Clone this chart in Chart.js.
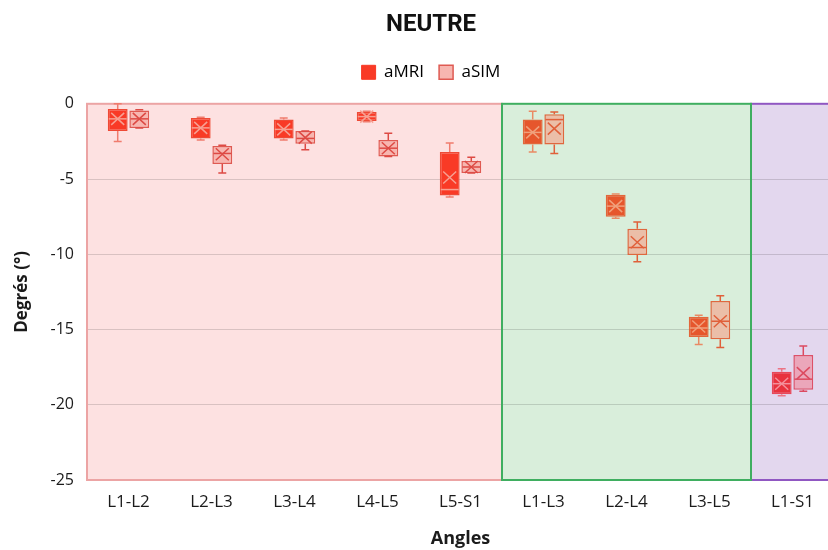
<!DOCTYPE html>
<html>
<head>
<meta charset="utf-8">
<script src="https://cdn.jsdelivr.net/npm/chart.js@4.4.1/dist/chart.umd.min.js"></script>
<style>
  html, body { margin: 0; padding: 0; overflow: hidden; background: #fff; }
</style>
</head>
<body>
<canvas id="neutre" width="862" height="550"></canvas>
<script>
// angles (x categories) and how many belong to each shaded group
const categories = ['L1-L2', 'L2-L3', 'L3-L4', 'L4-L5', 'L5-S1', 'L1-L3', 'L2-L4', 'L3-L5', 'L1-S1'];
const groupSizes = [5, 3, 1];

// aMRI box stats (degrees)
const mriMin  = [-2.5, -2.4, -2.4, -1.2, -6.2, -3.2, -7.6, -16.0, -19.4];
const mriQ1   = [-1.8, -2.3, -2.3, -1.15, -6.1, -2.7, -7.5, -15.5, -19.3];
const mriMed  = [-1.0, -1.6, -1.7, -0.85, -5.7, -1.9, -6.8, -14.9, -18.6];
const mriQ3   = [-0.35, -0.95, -1.05, -0.55, -3.2, -1.05, -6.05, -14.15, -17.8];
const mriMax  = [0.0, -0.9, -0.95, -0.5, -2.6, -0.5, -6.0, -14.05, -17.6];
const mriMean = [-1.0, -1.6, -1.7, -0.85, -4.9, -1.9, -6.8, -14.8, -18.6];

// aSIM box stats (degrees)
const simMin  = [-1.6, -4.6, -3.05, -3.5, -4.6, -3.3, -10.5, -16.2, -19.1];
const simQ1   = [-1.6, -4.0, -2.65, -3.5, -4.6, -2.7, -10.05, -15.65, -19.0];
const simMed  = [-1.0, -3.3, -2.3, -2.95, -4.2, -1.05, -9.55, -14.45, -18.3];
const simQ3   = [-0.45, -2.8, -1.8, -2.4, -3.8, -0.7, -8.3, -13.1, -16.7];
const simMax  = [-0.4, -2.75, -1.8, -1.95, -3.55, -0.55, -7.85, -12.75, -16.1];
const simMean = [-1.0, -3.35, -2.25, -2.95, -4.2, -1.65, -9.2, -14.45, -17.9];

const yTicks = [0, -5, -10, -15, -20, -25];

// colours per group (pink, green, purple)
const groupBg     = ['#fde1e1', '#d9eedb', '#e3d7ee'];
const groupBorder = ['#eca4a4', '#3fae60', '#9057c2'];
const mriFill  = ['#f93a26', '#e6562c', '#e8323e'];
const mriEdge  = ['#ee4a36', '#e2663a', '#e8485a'];
const mriLine  = ['#f7a092', '#f0a07c', '#f4909c'];
const mriWhisk = ['#f07c6e', '#e98a64', '#ec7484'];
const simFill  = ['#f7b6b0', '#ebbea8', '#eba6ba'];
const simEdge  = ['#df5a52', '#e0673e', '#dd5168'];
const simLine  = ['#dd4a44', '#e0603a', '#dc4a60'];

const groupOf = [];
groupSizes.forEach((n, g) => { for (let k = 0; k < n; k++) groupOf.push(g); });

Chart.defaults.font.family = "'Open Sans', sans-serif";
Chart.defaults.color = '#1b1b1b';

// push the plot down a little below the legend
const legendGap = {
  id: 'legendGap',
  beforeLayout(chart) {
    const lg = chart.legend;
    if (lg && !lg._gap) {
      const fit = lg.fit;
      lg.fit = function () { fit.call(this); this.height += 13; };
      lg._gap = true;
    }
  }
};

function groupRects(x) {
  const step = x.getPixelForValue(1) - x.getPixelForValue(0);
  const rects = [];
  let start = 0;
  groupSizes.forEach((n, g) => {
    rects.push({
      l: x.getPixelForValue(start) - step / 2,
      r: x.getPixelForValue(start + n - 1) + step / 2,
      g
    });
    start += n;
  });
  return rects;
}

const boxPlugin = {
  id: 'boxes',
  beforeDraw(chart) {
    const { ctx, chartArea: a, scales: { x } } = chart;
    ctx.save();
    groupRects(x).forEach(({ l, r, g }) => {
      ctx.fillStyle = groupBg[g];
      ctx.fillRect(l, a.top, Math.min(r, a.right) - l, a.bottom - a.top);
    });
    ctx.restore();
  },
  beforeDatasetsDraw(chart) {
    const { ctx, chartArea: a, scales: { x } } = chart;
    const rects = groupRects(x);
    ctx.save();
    ctx.lineWidth = 2;
    [0, 2, 1].forEach(i => {
      const { l, r, g } = rects[i];
      ctx.strokeStyle = groupBorder[g];
      ctx.strokeRect(l, a.top, r - l, a.bottom - a.top);
    });
    ctx.restore();
  },
  afterDatasetsDraw(chart) {
    const { ctx, scales: { y } } = chart;
    ctx.save();
    chart.data.datasets.forEach((ds, di) => {
      const meta = chart.getDatasetMeta(di);
      const st = ds.stats;
      meta.data.forEach((bar, i) => {
        const g = groupOf[i];
        const cx = bar.x, w = bar.width;
        const yMin = y.getPixelForValue(st.min[i]);
        const yMax = y.getPixelForValue(st.max[i]);
        const yQ1 = y.getPixelForValue(st.q1[i]);
        const yQ3 = y.getPixelForValue(st.q3[i]);
        const yMed = y.getPixelForValue(st.med[i]);
        const yMean = y.getPixelForValue(st.mean[i]);
        const cap = w * 0.2;
        ctx.lineWidth = 1.5;
        ctx.strokeStyle = di === 0 ? mriWhisk[g] : simLine[g];
        ctx.beginPath();
        ctx.moveTo(cx, yQ3); ctx.lineTo(cx, yMax);
        ctx.moveTo(cx - cap, yMax); ctx.lineTo(cx + cap, yMax);
        ctx.moveTo(cx, yQ1); ctx.lineTo(cx, yMin);
        ctx.moveTo(cx - cap, yMin); ctx.lineTo(cx + cap, yMin);
        ctx.stroke();
        ctx.strokeStyle = di === 0 ? mriLine[g] : simLine[g];
        ctx.beginPath();
        ctx.moveTo(cx - w / 2 + 1, yMed); ctx.lineTo(cx + w / 2 - 1, yMed);
        ctx.stroke();
        const hx = 6.5, hy = 6;
        ctx.beginPath();
        ctx.moveTo(cx - hx, yMean - hy); ctx.lineTo(cx + hx, yMean + hy);
        ctx.moveTo(cx - hx, yMean + hy); ctx.lineTo(cx + hx, yMean - hy);
        ctx.stroke();
      });
    });
    ctx.restore();
  }
};

new Chart(document.getElementById('neutre'), {
  type: 'bar',
  data: {
    labels: categories,
    datasets: [
      {
        label: 'aMRI',
        data: categories.map((_, i) => [mriQ1[i], mriQ3[i]]),
        backgroundColor: groupOf.map(g => mriFill[g]),
        borderColor: groupOf.map(g => mriEdge[g]),
        borderWidth: 1.5,
        borderSkipped: false,
        stats: { min: mriMin, q1: mriQ1, med: mriMed, q3: mriQ3, max: mriMax, mean: mriMean }
      },
      {
        label: 'aSIM',
        data: categories.map((_, i) => [simQ1[i], simQ3[i]]),
        backgroundColor: groupOf.map(g => simFill[g]),
        borderColor: groupOf.map(g => simEdge[g]),
        borderWidth: 1.5,
        borderSkipped: false,
        stats: { min: simMin, q1: simQ1, med: simMed, q3: simQ3, max: simMax, mean: simMean }
      }
    ]
  },
  options: {
    responsive: false,
    animation: false,
    layout: { padding: { top: 4, bottom: 0 } },
    datasets: { bar: { categoryPercentage: 0.52, barPercentage: 0.92 } },
    plugins: {
      title: {
        display: true,
        text: 'NEUTRE',
        color: '#111',
        font: { family: "Roboto, sans-serif", size: 24, weight: 'bold' },
        padding: { top: 7, bottom: 9 }
      },
      legend: {
        labels: {
          boxWidth: 14,
          boxHeight: 14,
          padding: 15,
          font: { size: 17 },
          color: '#111',
          generateLabels: () => [
            { text: 'aMRI', fillStyle: mriFill[0], strokeStyle: mriFill[0], lineWidth: 1, datasetIndex: 0 },
            { text: 'aSIM', fillStyle: simFill[0], strokeStyle: simEdge[0], lineWidth: 1.5, datasetIndex: 1 }
          ]
        }
      },
      tooltip: { enabled: false }
    },
    scales: {
      x: {
        grid: { display: false, drawTicks: false },
        border: { display: false },
        ticks: { font: { size: 17 }, padding: 12, maxRotation: 0, autoSkip: false },
        title: { display: true, text: 'Angles', font: { size: 18, weight: 'bold' }, padding: { top: 4, bottom: 0 } }
      },
      y: {
        min: -25,
        max: 0,
        afterBuildTicks: s => { s.ticks = yTicks.map(v => ({ value: v })); },
        ticks: { font: { size: 16 }, padding: 13 },
        grid: { drawTicks: false, color: 'rgba(0,0,0,0.14)', lineWidth: 1 },
        border: { display: false },
        title: { display: true, text: 'Degrés (°)', font: { size: 17, weight: 'bold' }, padding: { top: 12, bottom: 0 } },
        afterFit: s => { s.width = 87; }
      },
      yPad: {
        position: 'right',
        display: true,
        grid: { display: false },
        border: { display: false },
        ticks: { display: false },
        afterFit: s => { s.width = 28; }
      }
    }
  },
  plugins: [boxPlugin, legendGap]
});
</script>
</body>
</html>
